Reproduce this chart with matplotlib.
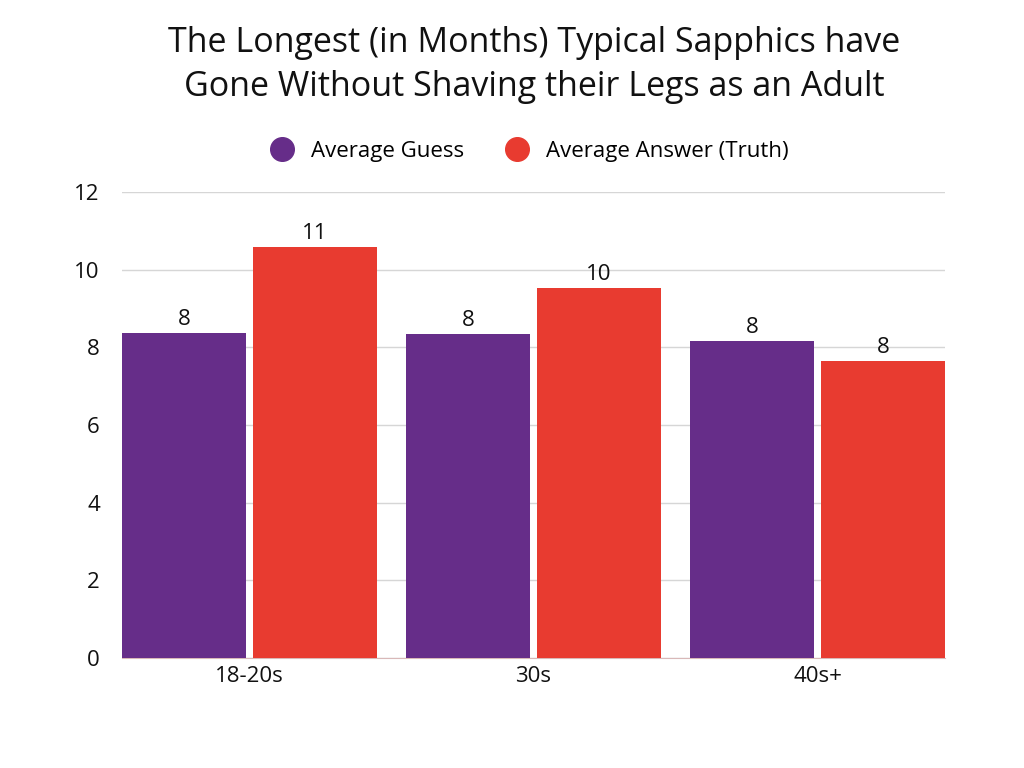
import matplotlib

matplotlib.use("Agg")
import matplotlib.pyplot as plt  # noqa: E402
from matplotlib.lines import Line2D  # noqa: E402
import numpy as np  # noqa: E402

categories = ["18-20s", "30s", "40s+"]
guess = [8.37, 8.34, 8.16]
truth = [10.58, 9.53, 7.65]
series_names = ["Average Guess", "Average Answer (Truth)"]
colors = ["#662D89", "#E83B30"]

plt.rcParams["font.family"] = ["Open Sans", "DejaVu Sans"]

fig = plt.figure(figsize=(10.24, 7.68), dpi=100)
ax = fig.add_axes([122 / 1024, 1 - 658 / 768, 823 / 1024, 466 / 768])

x = np.arange(len(categories))
width = 0.4366
offset = 0.2306
for vals, col, dx in [(guess, colors[0], -offset), (truth, colors[1], offset)]:
    bars = ax.bar(x + dx, vals, width=width, color=col, zorder=3)
    for b, v in zip(bars, vals):
        ax.text(b.get_x() + b.get_width() / 2, v + 0.08, f"{round(v)}",
                ha="center", va="bottom", fontsize=16, color="#111111")

ax.set_xlim(-0.449, 2.449)
ax.set_ylim(0, 12)
ax.set_yticks(range(0, 13, 2))
ax.grid(axis="y", color="#d6d6d6", lw=1, zorder=0)
ax.set_axisbelow(True)
for s in ["top", "right", "left"]:
    ax.spines[s].set_visible(False)
ax.spines["bottom"].set_color("#d9b8b8")
ax.tick_params(axis="both", length=0, labelsize=16, colors="#111111")
ax.tick_params(axis="y", pad=16)
ax.tick_params(axis="x", pad=6)
ax.set_xticks(x)
ax.set_xticklabels(categories)

fig.text(0.522, 1 - 65 / 768, "The Longest (in Months) Typical Sapphics have\nGone Without Shaving their Legs as an Adult",
         ha="center", va="center", fontsize=24.5, color="#111111", linespacing=1.38)

handles = [Line2D([], [], marker="o", ls="", markersize=17, color=c) for c in colors]
fig.legend(handles, series_names, loc="center", bbox_to_anchor=(0.512, 1 - 151 / 768),
           ncol=2, frameon=False, fontsize=16, handletextpad=0.3, columnspacing=1.4)

fig.savefig("out.png", dpi=100)
